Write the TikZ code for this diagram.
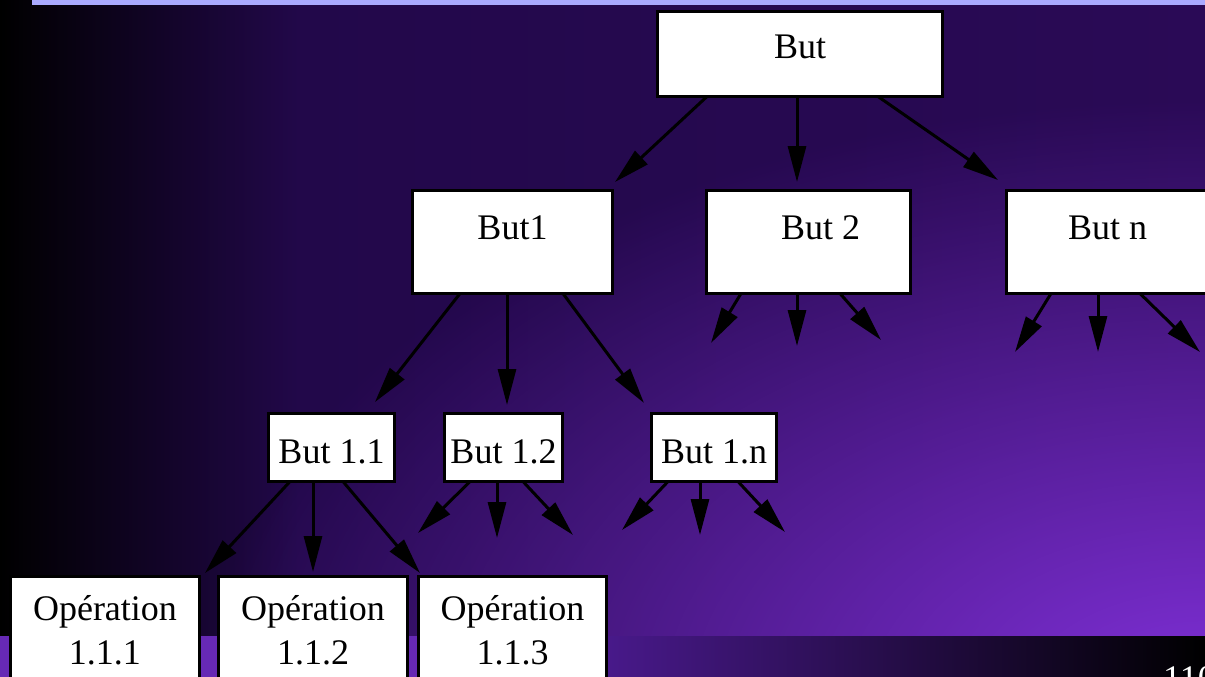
\documentclass[tikz,border=0pt]{standalone}
\usepackage{fontspec}
\setmainfont{Liberation Serif}
\usepackage{tikz}
\usetikzlibrary{arrows.meta,shadings,fadings}

\definecolor{stripblue}{HTML}{AAAAFF}
\definecolor{bgmid}{HTML}{22084A}
\definecolor{bgright}{HTML}{2A0A56}
\definecolor{bgbright}{HTML}{8030D8}
\definecolor{bandleft}{HTML}{6629B5}
\definecolor{bandstart}{HTML}{48198A}
\definecolor{bandmid}{HTML}{2A0A50}

\pgfdeclarehorizontalshading{bgbase}{100bp}{color(0bp)=(black); color(25bp)=(black); color(37.5bp)=(bgmid); color(75bp)=(bgright); color(100bp)=(bgright)}
\tikzfading[name=glowfade, inner color=transparent!0, outer color=transparent!100]

\newcommand{\butfont}{\fontsize{36}{44}\selectfont}

\tikzset{
  butbox/.style={draw, line width=3pt, fill=white, rectangle, inner sep=0pt, outer sep=0pt, anchor=north, font=\butfont},
  butarrow/.style={line width=3pt, -{Triangle[length=36pt,width=18pt]}}
}

\begin{document}
\begin{tikzpicture}[x=1pt,y=-1pt]
\useasboundingbox (0,0) rectangle (1205,677);
\clip (0,0) rectangle (1205,677);

% background
\shade[shading=bgbase] (0,0) rectangle (1205,677);
\fill[bgbright, path fading=glowfade] (1205,700) ellipse [x radius=1000pt, y radius=600pt];
\fill[stripblue] (32,0) rectangle (1205,5);
\fill[bandleft] (0,636) rectangle (607,677);
\shade[left color=bandstart, middle color=bandmid, right color=black] (607,636) rectangle (1205,677);

% boxes
\node[butbox, minimum width=285pt, text height=47.5pt, text depth=37.5pt] (but) at (800,11.5) {But};

\node[butbox, minimum width=200pt, text height=48.5pt, text depth=54.5pt] (b1) at (512.5,190.5) {But1};
\node[butbox, minimum width=204pt, text height=48.5pt, text depth=54.5pt] (b2) at (808.5,190.5) {\hspace{24pt}But 2};
\node[butbox, minimum width=202pt, text height=48.5pt, text depth=54.5pt] (bn) at (1107.5,190.5) {But n\hspace{24pt}};

\node[butbox, minimum width=126pt, text height=49.5pt, text depth=18.5pt] (b11) at (331.5,413.5) {But 1.1};
\node[butbox, minimum width=118pt, text height=49.5pt, text depth=18.5pt] (b12) at (503.5,413.5) {But 1.2};
\node[butbox, minimum width=125pt, text height=49.5pt, text depth=18.5pt] (b1n) at (714,413.5) {But 1.n};

\node[butbox, align=center, minimum width=189pt, text height=87.5pt, text depth=60pt] (op1) at (105,576.5) {Opération\\1.1.1};
\node[butbox, align=center, minimum width=189pt, text height=87.5pt, text depth=60pt] (op2) at (313,576.5) {Opération\\1.1.2};
\node[butbox, align=center, minimum width=188pt, text height=87.5pt, text depth=60pt] (op3) at (512.5,576.5) {Opération\\1.1.3};

\node[text=white, font=\butfont, anchor=base west, inner sep=0pt] (pagenum) at (1163,690) {110};

% free ends
\coordinate (b2l) at (711,343);
\coordinate (b2m) at (797,346);
\coordinate (b2r) at (881,340);
\coordinate (bnl) at (1015,352);
\coordinate (bnm) at (1098,352);
\coordinate (bnr) at (1200,352);
\coordinate (b12l) at (418,533);
\coordinate (b12m) at (497,538);
\coordinate (b12r) at (573,535);
\coordinate (b1nl) at (622,530);
\coordinate (b1nm) at (700,535);
\coordinate (b1nr) at (785,532);

% arrows
\draw[butarrow] ([xshift=-93pt]but.south) -- ([xshift=2.5pt,yshift=8.5pt]b1.north east);
\draw[butarrow] ([xshift=-3pt]but.south) -- ([xshift=-11.5pt,yshift=8.5pt]b2.north);
\draw[butarrow] ([xshift=78pt]but.south) -- ([xshift=-8.5pt,yshift=10.5pt]bn.north west);

\draw[butarrow] ([xshift=-52.5pt]b1.south) -- ([xshift=-19.5pt,yshift=11.5pt]b11.north east);
\draw[butarrow] ([xshift=-5.5pt]b1.south) -- ([xshift=3.5pt,yshift=8.5pt]b12.north);
\draw[butarrow] ([xshift=50.5pt]b1.south) -- ([xshift=-7.5pt,yshift=10.5pt]b1n.north west);

\draw[butarrow] ([xshift=-67.5pt]b2.south) -- (b2l);
\draw[butarrow] ([xshift=-11.5pt]b2.south) -- (b2m);
\draw[butarrow] ([xshift=31.5pt]b2.south) -- (b2r);

\draw[butarrow] ([xshift=-56.5pt]bn.south) -- (bnl);
\draw[butarrow] ([xshift=-9.5pt]bn.south) -- (bnm);
\draw[butarrow] ([xshift=32.5pt]bn.south) -- (bnr);

\draw[butarrow] ([xshift=-41.5pt]b11.south) -- ([xshift=5.5pt,yshift=3.5pt]op1.north east);
\draw[butarrow] ([xshift=-18.5pt]b11.south) -- ([yshift=4.5pt]op2.north);
\draw[butarrow] ([xshift=11.5pt]b11.south) -- ([xshift=1.5pt,yshift=3.5pt]op3.north west);

\draw[butarrow] ([xshift=-33.5pt]b12.south) -- (b12l);
\draw[butarrow] ([xshift=-6.5pt]b12.south) -- (b12m);
\draw[butarrow] ([xshift=19.5pt]b12.south) -- (b12r);

\draw[butarrow] ([xshift=-46pt]b1n.south) -- (b1nl);
\draw[butarrow] ([xshift=-14pt]b1n.south) -- (b1nm);
\draw[butarrow] ([xshift=24pt]b1n.south) -- (b1nr);
\end{tikzpicture}
\end{document}
